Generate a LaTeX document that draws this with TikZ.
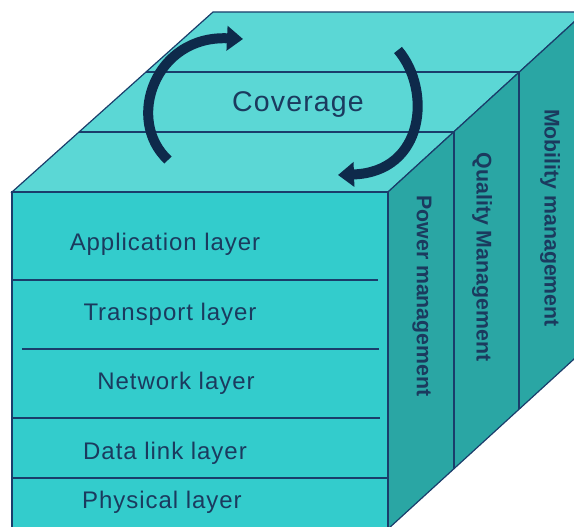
\documentclass[tikz,border=0pt]{standalone}
\usepackage{fontspec}
\setmainfont{Liberation Sans}
\newfontfamily\layerfont{Liberation Sans}[LetterSpace=4]
\usetikzlibrary{arrows.meta,calc}
\definecolor{frontc}{HTML}{33CCCC}
\definecolor{topc}{HTML}{5BD7D5}
\definecolor{sidec}{HTML}{2AA6A4}
\definecolor{edgec}{HTML}{1A3D6B}
\definecolor{textc}{HTML}{1B3A5E}
\definecolor{arrowc}{HTML}{0E2A4B}

\begin{document}
\begin{tikzpicture}[x=1pt,y=-1pt,
    layer/.style={text=textc,font=\layerfont\fontsize{24}{28}\selectfont},
    side/.style={text=textc,rotate=-90,font=\bfseries\fontsize{21.3}{25}\selectfont}]
  \useasboundingbox (0,0) rectangle (574,527);
  % corners of the cube
  \coordinate (ftl) at (12,192);
  \coordinate (ftr) at (388,192);
  \coordinate (fbl) at (12,529);
  \coordinate (fbr) at (388,529);
  \coordinate (btl) at (213,12);
  \coordinate (btr) at (585,12);
  \coordinate (bbr) at (585,349);
  % faces
  \begin{scope}[draw=edgec,line width=1.2pt]
    \filldraw[fill=topc] (ftl) -- (btl) -- (btr) -- (ftr) -- cycle;
    \filldraw[fill=sidec] (ftr) -- (btr) -- (bbr) -- (fbr) -- cycle;
    \filldraw[fill=frontc] (ftl) rectangle (fbr);
  \end{scope}
  % strips on top and side
  \begin{scope}[draw=edgec,line width=2pt]
    \draw ($(ftl)!1/3!(btl)$) -- ($(ftr)!1/3!(btr)$) -- ($(fbr)!1/3!(bbr)$);
    \draw ($(ftl)!2/3!(btl)$) -- ($(ftr)!2/3!(btr)$) -- ($(fbr)!2/3!(bbr)$);
  \end{scope}
  % layers on the front
  \begin{scope}[draw=edgec,line width=1.5pt]
    \draw (12,280) -- (378,280);
    \draw (22,349) -- (379,349);
    \draw (12,418) -- (380,418);
    \draw (12,478) -- (388,478);
  \end{scope}
  \node[layer] (app) at (165,244) {Application layer};
  \node[layer] (trans) at (170,314) {Transport layer};
  \node[layer] (net) at (176,383) {Network layer};
  \node[layer] (link) at (165,453) {Data link layer};
  \node[layer] (phys) at (162,502) {Physical layer};
  \node[text=textc,font=\layerfont\fontsize{28.5}{32}\selectfont] (cov) at (298,105) {Coverage};
  \node[side] (pow) at (422,296) {Power management};
  \node[side] (qual) at (482,257) {Quality Management};
  \node[side] (mob) at (550,218) {Mobility management};
  % turning arrows
  \coordinate (t1) at (168,160);
  \coordinate (h1) at (243,39);
  \coordinate (t2) at (398,50);
  \coordinate (h2) at (338,175);
  \begin{scope}[draw=arrowc,line width=10pt]
    \draw[-{Triangle[width=24pt,length=16pt]}] (t1) .. controls (125,120) and (155,35) .. (h1);
    \draw[-{Triangle[width=24pt,length=16pt]}] (t2) .. controls (432,90) and (425,172) .. (h2);
  \end{scope}
\end{tikzpicture}
\end{document}
